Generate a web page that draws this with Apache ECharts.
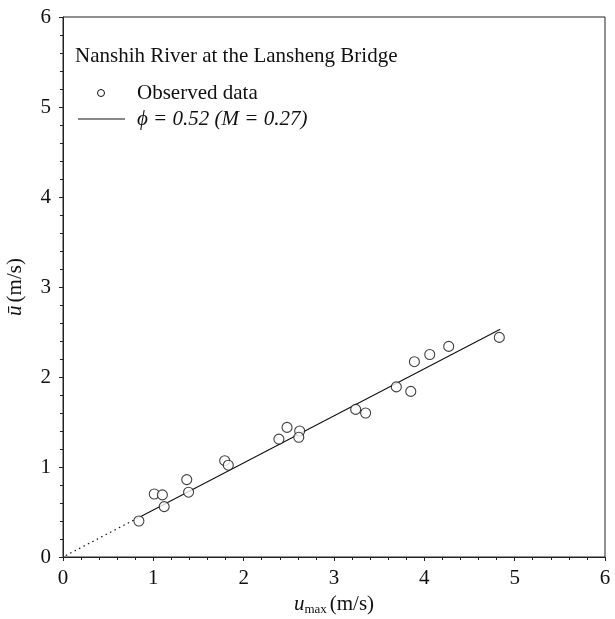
<!DOCTYPE html>
<html>
<head>
<meta charset="utf-8">
<script src="https://cdn.jsdelivr.net/npm/echarts@6/dist/echarts.min.js"></script>
<style>html,body{margin:0;padding:0;background:#fff}#c{width:615px;height:619px}</style>
</head>
<body>
<div id="c"></div>
<script>
// Observed data
const obsX = [0.84, 1.01, 1.10, 1.12, 1.37, 1.39, 1.79, 1.83, 2.39, 2.48, 2.62, 2.61, 3.24, 3.35, 3.69, 3.85, 3.89, 4.06, 4.27, 4.83];
const obsY = [0.40, 0.70, 0.69, 0.56, 0.86, 0.72, 1.07, 1.02, 1.31, 1.44, 1.40, 1.33, 1.64, 1.60, 1.89, 1.84, 2.17, 2.25, 2.34, 2.44];
// Fitted line phi = 0.52
const fitX = [0.84, 4.84];
const fitY = [0.44, 2.53];
// Dotted extension to origin
const extX = [0.03, 0.84];
const extY = [0.016, 0.44];
const xTicks = [0, 1, 2, 3, 4, 5, 6];
const yTicks = [0, 1, 2, 3, 4, 5, 6];
const titleText = 'Nanshih River at the Lansheng Bridge';
const legendNames = ['Observed data', 'ϕ = 0.52 (M = 0.27)'];

const FONT = '"Liberation Serif", "Times New Roman", serif';
const AX = '#222';
const zip = (a, b) => a.map((v, i) => [v, b[i]]);

const chart = echarts.init(document.getElementById('c'), null, {renderer: 'canvas'});
chart.setOption({
  animation: false,
  backgroundColor: '#fff',
  textStyle: {fontFamily: FONT},
  grid: {left: 63, right: 10, top: 17, bottom: 62, show: true, borderColor: AX, borderWidth: 1,
    containLabel: false, outerBoundsMode: 'none'},
  graphic: [
    {type: 'text', x: 75, y: 56,
      style: {text: titleText, font: '21px ' + FONT, fill: '#111', textVerticalAlign: 'middle'}},
    {type: 'circle', shape: {cx: 101, cy: 93, r: 3.5},
      style: {fill: '#fff', stroke: '#111', lineWidth: 1}},
    {type: 'text', x: 137, y: 93,
      style: {text: legendNames[0], font: '21px ' + FONT, fill: '#111', textVerticalAlign: 'middle'}},
    {type: 'line', shape: {x1: 78, y1: 119, x2: 125, y2: 119},
      style: {stroke: '#111', lineWidth: 1}},
    {type: 'text', x: 137, y: 119,
      style: {text: legendNames[1], font: 'italic 21px ' + FONT, fill: '#111', textVerticalAlign: 'middle'}}
  ],
  xAxis: {
    type: 'value', min: xTicks[0], max: xTicks[xTicks.length - 1], interval: 1,
    name: '{i|u}{s|max} {n|(m/s)}', nameLocation: 'middle', nameGap: 34,
    nameTextStyle: {
      rich: {
        i: {fontFamily: FONT, fontSize: 21, fontStyle: 'italic', color: '#111'},
        s: {fontFamily: FONT, fontSize: 13, color: '#111', padding: [11, 0, 0, 0]},
        n: {fontFamily: FONT, fontSize: 21, color: '#111'}
      }
    },
    axisLine: {lineStyle: {color: AX, width: 1}},
    axisTick: {inside: false, length: 4, lineStyle: {color: AX}},
    minorTick: {show: true, splitNumber: 5, length: 3, lineStyle: {color: AX}},
    axisLabel: {fontFamily: FONT, fontSize: 21, color: '#111', margin: 11},
    splitLine: {show: false}
  },
  yAxis: {
    type: 'value', min: yTicks[0], max: yTicks[yTicks.length - 1], interval: 1,
    name: '{i|ū} {n|(m/s)}', nameLocation: 'middle', nameGap: 37,
    nameTextStyle: {
      rich: {
        i: {fontFamily: FONT, fontSize: 21, fontStyle: 'italic', color: '#111'},
        n: {fontFamily: FONT, fontSize: 21, color: '#111'}
      }
    },
    axisLine: {lineStyle: {color: AX, width: 1}},
    axisTick: {inside: false, length: 4, lineStyle: {color: AX}},
    minorTick: {show: true, splitNumber: 5, length: 3, lineStyle: {color: AX}},
    axisLabel: {fontFamily: FONT, fontSize: 21, color: '#111', margin: 12},
    splitLine: {show: false}
  },
  series: [
    {
      name: legendNames[1], type: 'line', data: zip(fitX, fitY),
      symbol: 'none', lineStyle: {color: '#111', width: 1.1}, z: 2
    },
    {
      name: 'dotted', type: 'line', data: zip(extX, extY),
      symbol: 'none', lineStyle: {color: '#111', width: 1.2, type: [1.5, 3.5]}, z: 2
    },
    {
      name: legendNames[0], type: 'scatter', data: zip(obsX, obsY),
      symbol: 'circle', symbolSize: 10,
      itemStyle: {color: '#fff', borderColor: '#111', borderWidth: 1.1}, z: 3
    }
  ]
});
</script>
</body>
</html>
